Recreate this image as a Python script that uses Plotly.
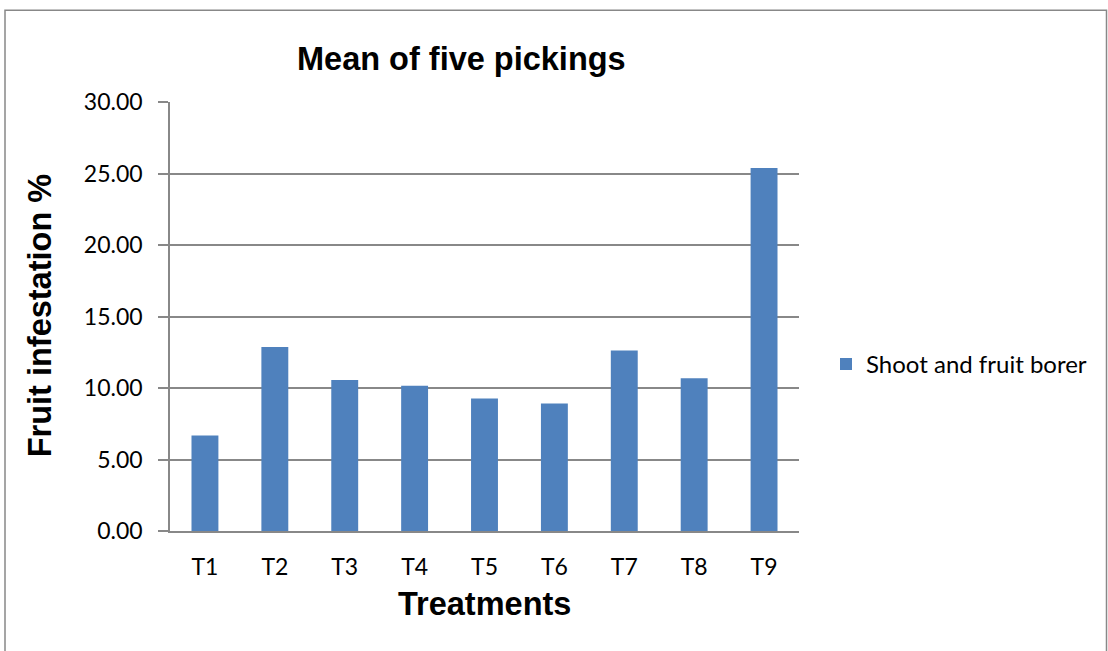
import plotly.graph_objects as go

categories = ["T1", "T2", "T3", "T4", "T5", "T6", "T7", "T8", "T9"]
values = [6.68, 12.87, 10.56, 10.16, 9.26, 8.92, 12.62, 10.68, 25.38]
series_name = "Shoot and fruit borer"
y_ticks = [0, 5, 10, 15, 20, 25, 30]

W, H = 1108, 651
L, R, T, B = 170, 799, 101.7, 530.7
pw, ph = R - L, B - T

def px(x):
    return (x - L) / pw

def py(y):
    return (B - y) / ph

fig = go.Figure()
fig.add_trace(go.Bar(
    x=categories, y=values, name=series_name,
    marker=dict(color="#4F81BD", line=dict(width=0)),
    showlegend=True,
))

axis_font = dict(family="Lato, Open Sans, sans-serif", size=23, color="#000000")
title_font = dict(family="Liberation Sans, Arial, sans-serif", size=32.5, color="#000000")

fig.update_layout(
    width=W, height=H,
    margin=dict(l=L, r=W - R, t=T, b=H - B, autoexpand=False),
    paper_bgcolor="white", plot_bgcolor="white",
    bargap=0.615,
    showlegend=True,
    legend=dict(x=px(826), y=py(364), xanchor="left", yanchor="middle",
                font=dict(family="Lato, Open Sans, sans-serif", size=24, color="#000000"),
                bgcolor="rgba(0,0,0,0)", itemwidth=30),
    xaxis=dict(
        showline=True, linecolor="#888888", linewidth=1.5,
        ticks="", tickfont=axis_font, ticklabelstandoff=15,
        showgrid=False, fixedrange=True,
    ),
    yaxis=dict(
        range=[0, 30], tickvals=y_ticks,
        ticktext=[f"{v:.2f}" for v in y_ticks],
        showline=True, linecolor="#888888", linewidth=1.5,
        ticks="outside", ticklen=10, tickcolor="#888888", tickwidth=1.5,
        tickfont=axis_font, ticklabelstandoff=11,
        showgrid=True, gridcolor="#888888", gridwidth=1.5,
        zeroline=False, fixedrange=True,
    ),
    shapes=[dict(type="rect", xref="paper", yref="paper",
                 x0=px(5), x1=px(1106.5), y0=py(665), y1=py(10),
                 line=dict(color="#888888", width=1.5), fillcolor="rgba(0,0,0,0)",
                 layer="below")],
    annotations=[
        dict(text="<b>Mean of five pickings</b>", xref="paper", yref="paper",
             x=px(461), y=py(59), xanchor="center", yanchor="middle", showarrow=False,
             font=title_font),
        dict(text="<b>Treatments</b>", xref="paper", yref="paper",
             x=px(485), y=py(604), xanchor="center", yanchor="middle", showarrow=False,
             font=title_font),
        dict(text="<b>Fruit infestation %</b>", xref="paper", yref="paper",
             x=px(40), y=py(315), xanchor="center", yanchor="middle", showarrow=False,
             textangle=-90, font=title_font),
    ],
)

fig.write_html("out.html", config={"displayModeBar": False},
               post_script="document.body.style.margin='0';document.body.style.overflow='hidden';")
